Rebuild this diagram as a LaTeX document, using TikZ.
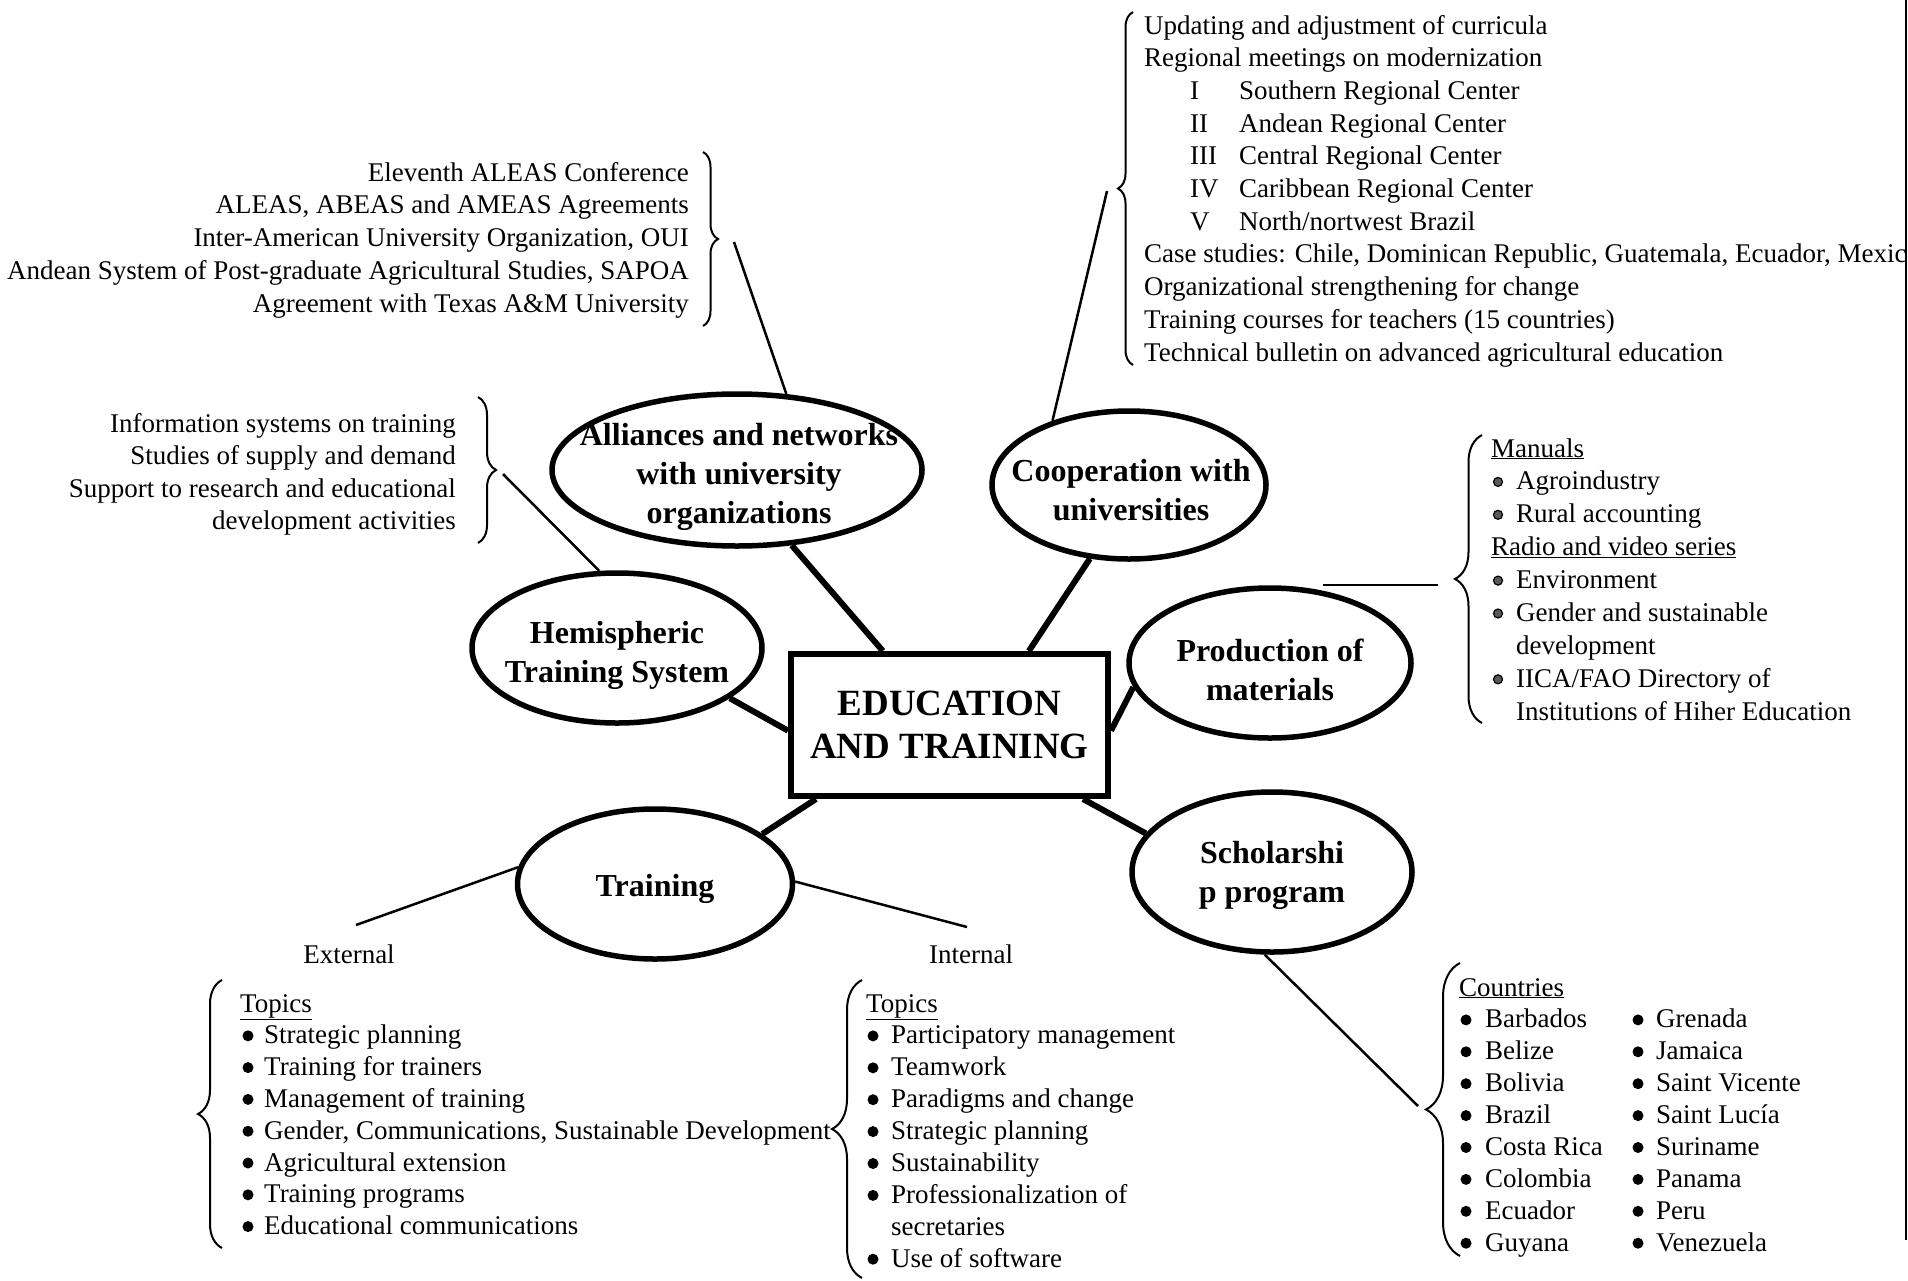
\documentclass[tikz,border=0pt]{standalone}
\usepackage{fontspec}
\setmainfont{Liberation Serif}
\usetikzlibrary{shapes.geometric,decorations.pathreplacing}
\begin{document}
\begin{tikzpicture}[x=1pt,y=-1pt,
  ell/.style={draw, ellipse, line width=5.5pt, inner sep=0pt},
  elltxt/.style={font=\fontsize{32}{39}\selectfont\bfseries, align=center, inner sep=0pt},
  hub/.style={draw, rectangle, line width=6pt, inner sep=0pt, minimum width=317pt, minimum height=142pt,
    font=\fontsize{37}{43.5}\selectfont\bfseries, align=center},
  thicklink/.style={line width=6pt},
  thinlink/.style={line width=2.5pt},
  brc/.style={decorate, decoration={brace, amplitude=#1}, line width=2pt},
  body/.style={font=\fontsize{27}{32.7}\selectfont, inner sep=0pt},
  dotb/.style={fill=black},
  dotg/.style={fill=black!65, draw=black, line width=1.2pt}
]
\useasboundingbox (0,0) rectangle (1908,1280);

% frame edge on the right
\draw[line width=2pt] (1906,0) -- (1906,1240);

% central box
\node[hub] (box) at (949.5,725) {EDUCATION\\AND TRAINING};

% ellipses
\node[ell, minimum width=370pt, minimum height=152pt] (alli) at (737,470) {};
\node[elltxt] (allit) at (739,477) {Alliances and networks\\with university\\organizations};
\node[ell, minimum width=274pt, minimum height=148pt] (coop) at (1129,485) {};
\node[elltxt] (coopt) at (1131,490) {Cooperation with\\universities};
\node[ell, minimum width=290pt, minimum height=150pt] (hemi) at (617,648) {};
\node[elltxt] (hemit) at (617,655) {Hemispheric\\Training System};
\node[ell, minimum width=282pt, minimum height=150pt] (prod) at (1270,663) {};
\node[elltxt] (prodt) at (1270,670) {Production of\\materials};
\node[ell, minimum width=275pt, minimum height=150pt] (train) at (655,884) {};
\node[elltxt] (traint) at (655,889) {Training};
\node[ell, minimum width=280pt, minimum height=160pt] (schol) at (1272,872) {};
\node[elltxt] (scholt) at (1272,875) {Scholarshi\\p program};

% thick connectors
\draw[thicklink] (box.132.4) -- (alli.306.3);
\draw[thicklink] (box.43.3) -- (coop.242.4);
\draw[thicklink] (box.182) -- (hemi.336);
\draw[thicklink] (box.358.2) -- (prod.190.5);
\draw[thicklink] (box.209.4) -- (train.25.4);
\draw[thicklink] (box.331.7) -- (schol.163.6);

% braces
\draw[brc=15pt] (703,152) -- (703,326);      % top-left
\draw[brc=15pt] (1133,365) -- (1133,12);     % top-right
\draw[brc=18pt] (478,397) -- (478,543);      % hemispheric
\draw[brc=27pt] (1482,723) -- (1482,435);    % production
\draw[brc=24pt] (222,1248) -- (222,980);     % external
\draw[brc=30pt] (862,1278) -- (862,980);     % internal
\draw[brc=34pt] (1460,1256) -- (1460,963);   % countries

% connector free ends
\coordinate (tlc) at (734,242);
\coordinate (trc) at (1107,191);
\coordinate (hc) at (503,474);
\coordinate (pc) at (1438,585);
\coordinate (cc) at (1418,1106);
\coordinate (extc) at (356,925);
\coordinate (intc) at (967,927);

% thin connectors
\draw[thinlink] (tlc) -- (alli.57.3);
\draw[thinlink] (trc) -- (coop.140.3);
\draw[thinlink] (hc) -- (hemi.103.7);
\draw[thinlink] (pc) -- (pc -| prod.54);
\draw[thinlink] (cc) -- (schol.265);
\draw[thinlink] (train.173.8) -- (extc);
\draw[thinlink] (train.1.7) -- (intc);

% top-left list
\foreach \t [count=\i] in {Eleventh ALEAS Conference, {ALEAS, ABEAS and AMEAS Agreements},
  {Inter-American University Organization, OUI},
  {Andean System of Post-graduate Agricultural Studies, SAPOA},
  Agreement with Texas A\&M University}
  \node[body, anchor=base east] (tl\i) at ({689},{181+32.8*(\i-1)}) {\t};

% top-right list
\node[body, anchor=base west] (tr1) at (1144,34) {Updating and adjustment of curricula};
\node[body, anchor=base west] (tr2) at (1144,66.7) {Regional meetings on modernization};
\foreach \r/\t [count=\i] in {I/{Southern Regional Center}, II/{Andean Regional Center},
  III/{Central Regional Center}, IV/{Caribbean Regional Center}, V/{North/nortwest Brazil}}{
  \node[body, anchor=base west] (trn\i) at ({1190},{99.4+32.7*(\i-1)}) {\r};
  \node[body, anchor=base west] (trt\i) at ({1239},{99.4+32.7*(\i-1)}) {\t};
}
\node[body, anchor=base west] (tr8) at (1144,262.9) {Case studies: Chile, Dominican Republic, Guatemala, Ecuador, Mexic};
\node[body, anchor=base west] (tr9) at (1144,295.6) {Organizational strengthening for change};
\node[body, anchor=base west] (tr10) at (1144,328.3) {Training courses for teachers (15 countries)};
\node[body, anchor=base west] (tr11) at (1144,361) {Technical bulletin on advanced agricultural education};

% hemispheric list
\foreach \t [count=\i] in {Information systems on training, Studies of supply and demand,
  Support to research and educational, development activities}
  \node[body, anchor=base east] (hl\i) at ({456},{432+32.5*(\i-1)}) {\t};

% production list
\node[body, anchor=base west] (pl1) at (1491,457) {\underline{Manuals}};
\node[body, anchor=base west] (pl2) at (1516,489.9) {Agroindustry};
\node[body, anchor=base west] (pl3) at (1516,522.8) {Rural accounting};
\node[body, anchor=base west] (pl4) at (1491,555.7) {\underline{Radio and video series}};
\node[body, anchor=base west] (pl5) at (1516,588.6) {Environment};
\node[body, anchor=base west] (pl6) at (1516,621.5) {Gender and sustainable};
\node[body, anchor=base west] (pl7) at (1516,654.4) {development};
\node[body, anchor=base west] (pl8) at (1516,687.3) {IICA/FAO Directory of};
\node[body, anchor=base west] (pl9) at (1516,720.2) {Institutions of Hiher Education};
\foreach \y in {489.9,522.8,588.6,621.5,687.3}
  \filldraw[dotg] (1498,\y-8) circle (4.5);

% training labels
\node[body, anchor=base] (extl) at (349,963) {External};
\node[body, anchor=base] (intl) at (971,963) {Internal};

% external list
\node[body, anchor=base west] (el0) at (240,1012) {\underline{Topics}};
\foreach \t [count=\i] in {Strategic planning, Training for trainers, Management of training,
  {Gender, Communications, Sustainable Development}, Agricultural extension,
  Training programs, Educational communications}{
  \node[body, anchor=base west] (el\i) at ({264},{1012+31.8*\i}) {\t};
  \fill[dotb] ({248},{1012+31.8*\i-8}) circle (5.5);
}

% internal list
\node[body, anchor=base west] (il0) at (866,1012) {\underline{Topics}};
\foreach \t/\b [count=\i] in {Participatory management/1, Teamwork/1, Paradigms and change/1,
  Strategic planning/1, Sustainability/1, Professionalization of/1, secretaries/0, Use of software/1}{
  \node[body, anchor=base west] (il\i) at ({891},{1012+31.9*\i}) {\t};
  \ifnum\b=1 \fill[dotb] ({873},{1012+31.9*\i-8}) circle (5.5); \fi
}

% countries
\node[body, anchor=base west] (cl0) at (1459,996) {\underline{Countries}};
\foreach \a/\b [count=\i] in {Barbados/Grenada, Belize/Jamaica, Bolivia/Saint Vicente,
  Brazil/Saint Lucía, Costa Rica/Suriname, Colombia/Panama, Ecuador/Peru, Guyana/Venezuela}{
  \node[body, anchor=base west] (ca\i) at ({1485},{996+31.9*\i}) {\a};
  \node[body, anchor=base west] (cb\i) at ({1656},{996+31.9*\i}) {\b};
  \fill[dotb] ({1466},{996+31.9*\i-8}) circle (5.5);
  \fill[dotb] ({1638},{996+31.9*\i-8}) circle (5.5);
}
\end{tikzpicture}
\end{document}
